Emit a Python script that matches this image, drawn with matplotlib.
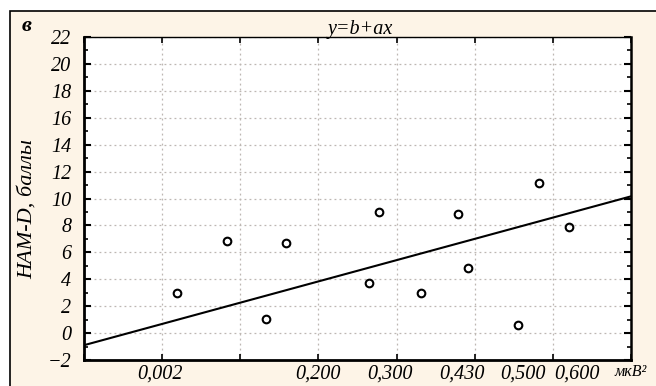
import numpy as np
import matplotlib
matplotlib.use('Agg')
import matplotlib.pyplot as plt
from matplotlib.patches import Rectangle

plt.rcParams['font.family'] = ['Liberation Serif', 'DejaVu Serif']
plt.rcParams['font.style'] = 'italic'

# scatter points (x on a positional scale 0..7, y = HAM-D score)
x_pts = [1.19, 1.83, 2.33, 2.59, 3.65, 3.77, 4.31, 4.78, 4.91, 5.55, 5.82, 6.21]
y_pts = [2.96, 6.84, 1.02, 6.67, 3.70, 8.97, 2.96, 8.87, 4.84, 0.60, 11.13, 7.86]

# regression line y = b + a*x
b_fit = -0.9
a_fit = 1.58

# x tick labels and their positions
xlab_pos = [0.97, 2.99, 3.92, 4.84, 5.62, 6.31]
xlab_txt = ['0,002', '0,200', '0,300', '0,430', '0,500', '0,600']
x_grid = [0, 1, 2, 3, 4, 5, 6, 7]
y_major = list(range(-2, 23, 2))
y_minor = list(range(-1, 22, 2))

beige = '#fdf4e7'

fig = plt.figure(figsize=(6.56, 3.86), dpi=100, facecolor='white')
W, H = 656, 386
frame = Rectangle((10 / W, -0.1), 1.0, (H - 11) / H + 0.1, transform=fig.transFigure,
                  facecolor=beige, edgecolor='black', lw=1.2, zorder=0)
fig.add_artist(frame)

ax = fig.add_axes([84 / W, (H - 360) / H, (631 - 84) / W, (360 - 37) / H])
ax.set_facecolor('white')

ax.set_xlim(0, 7)
ax.set_ylim(-2, 22)

xs = np.array([0, 7])
ax.plot(xs, b_fit + a_fit * xs, color='black', lw=1.5, zorder=3)
ax.plot(x_pts, y_pts, 'o', mfc='none', mec='black', mew=1.5, ms=5.5, zorder=4)

# major ticks carry the grid, minor ticks carry the labels
ax.set_xticks(x_grid)
ax.set_xticklabels([])
ax.set_xticks(xlab_pos, minor=True)
ax.set_xticklabels(xlab_txt, minor=True)
ax.tick_params(axis='x', which='major', direction='in', length=4, width=1.2, top=True, bottom=True)
ax.tick_params(axis='x', which='minor', length=0, pad=3, labelsize=14.5)

ax.set_yticks(y_major)
ax.set_yticks(y_minor, minor=True)
ax.tick_params(axis='y', which='major', direction='in', length=5, width=1.5, left=True, right=True,
               labelsize=14.5, pad=9)
ax.tick_params(axis='y', which='minor', direction='in', length=3, width=1.2, left=True, right=True)

ax.grid(True, which='major', color='#bdb7b2', ls=(0, (1.5, 2.5)), lw=0.9)

for side, lw in [('left', 2), ('bottom', 2), ('right', 1.8), ('top', 1)]:
    ax.spines[side].set_linewidth(lw)

fig.text(631 / W, 1 - 372 / H, 'мкB²', ha='center', va='center', fontsize=11.5)

ax.set_title('y=b+ax', fontsize=14.5, x=0.506, pad=2)
ax.set_ylabel('HAM-D, баллы', fontsize=16)
ax.yaxis.set_label_coords(-0.086, 0.467)

fig.text(22 / W, 1 - 26 / H, 'в', ha='left', va='center', fontsize=16, fontweight='bold')

fig.savefig('out.png', dpi=100)
